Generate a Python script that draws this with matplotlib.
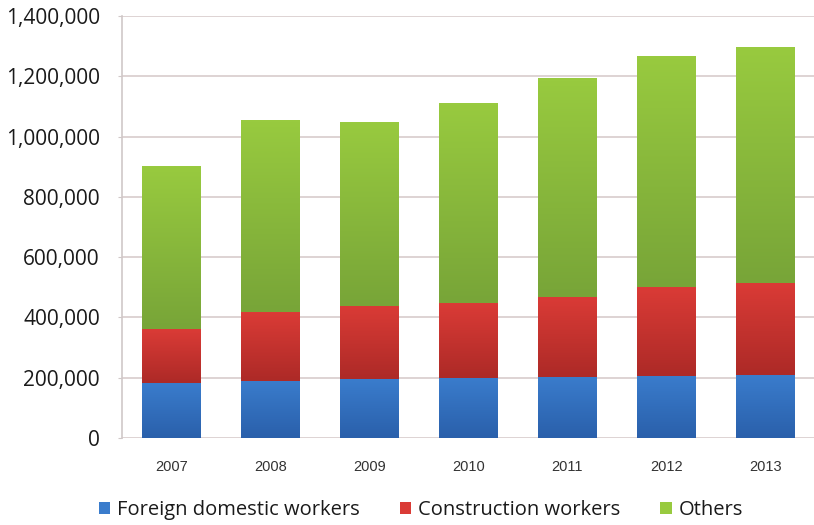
import numpy as np
import matplotlib.pyplot as plt
from matplotlib.colors import LinearSegmentedColormap
from matplotlib.ticker import FuncFormatter, MultipleLocator

years = ['2007', '2008', '2009', '2010', '2011', '2012', '2013']
domestic = [182000, 190000, 195000, 200000, 203000, 207000, 209000]
construction = [179000, 229000, 244000, 247000, 266000, 293000, 306000]
others = [538000, 636000, 609000, 663000, 727000, 767000, 782000]

series = [
    ('Foreign domestic workers', domestic, '#3a7ccc', '#2a60ab'),
    ('Construction workers', construction, '#da3b36', '#ad2a27'),
    ('Others', others, '#98ca3f', '#78a538'),
]

fig = plt.figure(figsize=(8.14, 5.25), dpi=100)
ax = fig.add_axes([0.150, 0.166, 0.851, 0.803])

x = np.arange(len(years))
bottom = np.zeros(len(years))
handles = []
grad = np.linspace(1, 0, 64).reshape(-1, 1)
for label, vals, top_c, bot_c in series:
    bars = ax.bar(x, vals, 0.59, bottom=bottom, color=top_c, label=label,
                  zorder=2, linewidth=0)
    cmap = LinearSegmentedColormap.from_list(label, [bot_c, top_c])
    # excel-style vertical shading on each segment
    for p in bars:
        x0, y0 = p.get_x(), p.get_y()
        ax.imshow(grad, cmap=cmap, aspect='auto', zorder=3,
                  extent=[x0, x0 + p.get_width(), y0, y0 + p.get_height()],
                  origin='upper', interpolation='bilinear')
    handles.append(bars)
    bottom += np.array(vals)

ax.set_xlim(-0.5, 6.5)
ax.set_ylim(0, 1400000)
ax.set_xticks(x)
ax.set_xticklabels(years, fontfamily='Liberation Sans', fontsize=10.5,
                   color='#333333')
ax.yaxis.set_major_locator(MultipleLocator(200000))
ax.yaxis.set_major_formatter(FuncFormatter(lambda v, _: f'{int(v):,}'))
for t in ax.get_yticklabels():
    t.set_fontfamily('Open Sans')
    t.set_fontsize(15)
    t.set_color('#1a1a1a')

ax.grid(axis='y', color='#d8cccc', linewidth=1.2, zorder=0)
for s in ['top', 'right', 'bottom']:
    ax.spines[s].set_visible(False)
ax.spines['left'].set_color('#d0c8c8')
ax.spines['left'].set_linewidth(1.2)
ax.tick_params(axis='y', length=3, color='#d0c8c8', pad=13)
ax.tick_params(axis='x', length=0, pad=16)

fig.legend(handles=handles, labels=[s[0] for s in series],
           loc='center', bbox_to_anchor=(0.517, 0.028), ncol=3, frameon=False,
           prop={'family': 'Open Sans', 'size': 14.5}, handlelength=0.55,
           handleheight=0.55, handletextpad=0.35, columnspacing=2.0)
for t in fig.legends[0].get_texts():
    t.set_color('#1a1a1a')

fig.savefig('out.png', dpi=100)
